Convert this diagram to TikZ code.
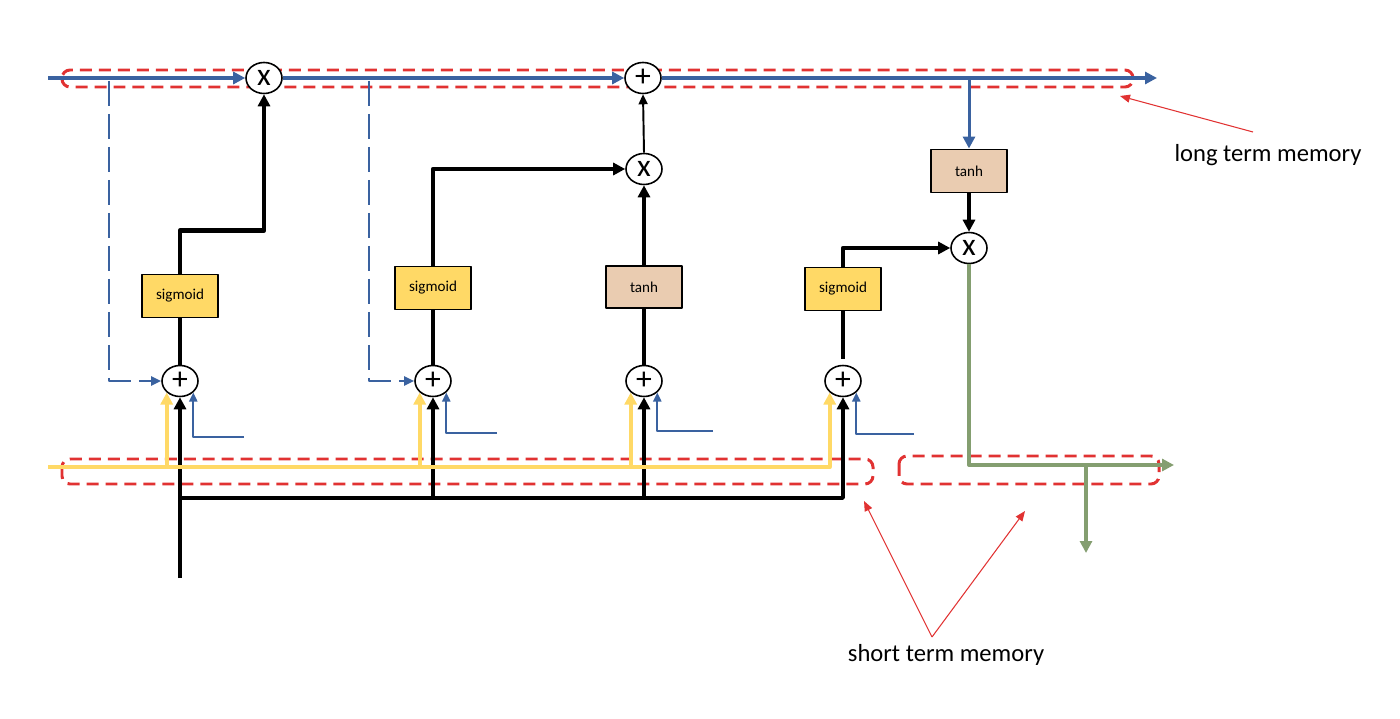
\documentclass[tikz,border=0pt]{standalone}
\usepackage{fontspec}
\setmainfont{Carlito}
\usetikzlibrary{arrows.meta,shapes.geometric}
\definecolor{ltblue}{RGB}{58,98,160}
\definecolor{inyel}{RGB}{255,217,102}
\definecolor{sigfill}{RGB}{255,217,102}
\definecolor{tanhfill}{RGB}{234,204,177}
\definecolor{outgrn}{RGB}{132,158,112}
\definecolor{memred}{RGB}{225,50,50}
\begin{document}
\begin{tikzpicture}[x=0.02cm,y=-0.02cm,line join=round,>={Triangle[length=0.24cm,width=0.24cm]},
    gate/.style={draw,line width=1.1pt,minimum width=1.52cm,minimum height=0.86cm,inner sep=0pt,font=\fontsize{8.6}{9}\selectfont},
    sig/.style={gate,fill=sigfill},
    tnh/.style={gate,fill=tanhfill},
    op/.style={draw,ellipse,line width=0.9pt,fill=white,minimum width=0.72cm,minimum height=0.62cm,inner sep=0pt,font=\fontsize{18}{18}\selectfont},
    cell/.style={ltblue,line width=2pt,->},
    peep/.style={ltblue,line width=1.3pt,dash pattern=on 0.5cm off 0.16cm,-{Triangle[length=0.2cm,width=0.18cm]}},
    bias/.style={ltblue,line width=1.2pt,-{Triangle[length=0.18cm,width=0.16cm]}},
    wire/.style={black,line width=2.5pt},
    inp/.style={inyel,line width=2.3pt},
    outp/.style={outgrn,line width=2.3pt},
    memo/.style={memred,line width=1.7pt,dash pattern=on 0.24cm off 0.14cm,rounded corners=0.16cm},
    note/.style={memred,line width=0.6pt,-{Triangle[length=0.2cm,width=0.16cm]}}]
    \useasboundingbox (0,0) rectangle (1400,719);
    % memory bands
    \draw[memo] (62,70) rectangle (1133,87);
    \draw[memo] (62,459) rectangle (873,484);
    \draw[memo] (899,456) rectangle (1159,484);
    % gates
    \node[op] (f) at (264,78) {x};
    \node[op] (u) at (643,78) {+};
    \node[op] (g) at (644,169) {x};
    \node[op] (o) at (969,248) {x};
    \node[op] (a1) at (180,381) {+};
    \node[op] (a2) at (433,381) {+};
    \node[op] (a3) at (644,381) {+};
    \node[op] (a4) at (843,381) {+};
    \node[sig] (s1) at (180,296) {sigmoid};
    \node[sig] (s2) at (433,288) {sigmoid};
    \node[tnh,minimum height=0.84cm] (t3) at (644,287) {tanh};
    \node[sig] (s4) at (843,289) {sigmoid};
    \node[tnh] (t5) at (969,171) {tanh};
    % long term memory
    \coordinate (cin) at (48,78);
    \coordinate (cout) at (1157,78);
    \draw[cell] (cin) -- (f);
    \draw[cell] (f) -- (u);
    \draw[cell] (u) -- (cout);
    \draw[cell,line width=1.7pt] (t5.north |- cin) -- (t5.north);
    \coordinate (p1) at (109,81);
    \coordinate (p2) at (369,81);
    \draw[peep] (p1) |- (a1.west);
    \draw[peep] (p2) |- (a2.west);
    % gate outputs
    \draw[wire,->] (s1.north) -- ++(0,-43) -| (f.south);
    \draw[wire,->] (s2.north) |- (g.west);
    \draw[wire,->] (t3.north) -- (g.south);
    \draw[line width=1.1pt,-{Triangle[length=0.2cm,width=0.18cm]}] (g.north) -- (u.south);
    \draw[wire,->] (s4.north) |- (o.west);
    \draw[wire,->] (t5.south) -- (o.north);
    \foreach \a/\s in {a1/s1,a2/s2,a3/t3} \draw[wire] (\a.north) -- (\s.south);
    \draw[wire,shorten <=0.12cm] (a4.north) -- (s4.south);
    % short term memory in
    \coordinate (hin) at (180,578);
    \coordinate (hbus) at (0,498);
    \draw[wire,->] (hin) -- (a1.south);
    \draw[wire,line width=2pt,->] (a1 |- hbus) -| (a4.south);
    \foreach \a in {a2,a3} \draw[wire,->] (\a |- hbus) -- (\a.south);
    \coordinate (yin) at (48,467);
    \draw[inp,->] (yin) -| (a4.south west);
    \foreach \a in {a1,a2,a3} \draw[inp,->] (\a.south west |- yin) -- (\a.south west);
    \foreach \a/\x/\y in {a1/244/437,a2/497/433,a3/713/431,a4/914/434}{
        \coordinate (b\a) at (\x,\y);
        \draw[bias] (b\a) -| (\a.south east);}
    % short term memory out
    \coordinate (hout) at (1174,465);
    \coordinate (hbr) at (1086,465);
    \coordinate (hdn) at (1086,553);
    \draw[outp,->] (o.south) |- (hout);
    \draw[outp,->] (hbr) -- (hdn);
    % labels
    \node[font=\fontsize{14}{16}\selectfont,anchor=base] (ltm) at (1268,162) {long term memory};
    \node[font=\fontsize{14}{16}\selectfont,anchor=base] (stm) at (946,661) {short term memory};
    \coordinate (lt) at (1253,132);
    \coordinate (lband) at (1120,96);
    \draw[note] (lt) -- (lband);
    \coordinate (st) at (932,637);
    \coordinate (sl) at (864,501);
    \coordinate (sr) at (1025,511);
    \draw[note] (st) -- (sl);
    \draw[note] (st) -- (sr);
\end{tikzpicture}
\end{document}
